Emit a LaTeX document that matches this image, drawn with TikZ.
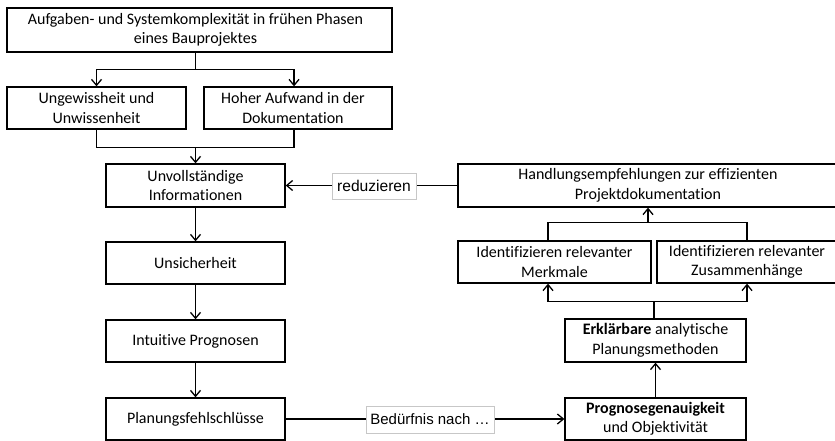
\documentclass[tikz,border=0pt]{standalone}
\usepackage{fontspec}
\setmainfont{Carlito}[Ligatures=NoCommon]
\newfontfamily\tagfont{Liberation Sans}
\usetikzlibrary{arrows.meta,calc}
\begin{document}
\begin{tikzpicture}[x=1pt,y=-1pt,
  box/.style={draw=black, line width=1.3pt, rectangle, inner sep=0pt,
    align=center, font=\fontsize{16}{19.5}\selectfont},
  boxtext/.style={inner sep=0pt, align=center, font=\fontsize{16}{19.5}\selectfont},
  tag/.style={draw=black!22, fill=white, line width=0.8pt, inner sep=0pt,
    font=\tagfont\fontsize{15.6}{19}\selectfont},
  plain/.style={line width=1.3pt},
  link/.style={line width=1.3pt, -{Straight Barb[length=6pt,width=10pt,line width=1.3pt]}}]
\useasboundingbox (0,0) rectangle (835,441);

% left column
\node[box, minimum width=385pt, minimum height=44pt,
  label={[boxtext, xshift=-4pt]center:{Aufgaben- und Systemkomplexität in frühen Phasen\\eines Bauprojektes}}]
  (top) at (199.5,30) {};
\node[box, minimum width=179pt, minimum height=42pt] (ung) at (96.5,108) {Ungewissheit und\\Unwissenheit};
\node[box, minimum width=188pt, minimum height=42pt,
  label={[boxtext, xshift=-5pt]center:{Hoher Aufwand in der\\Dokumentation}}]
  (hoh) at (298,108) {};
\node[box, minimum width=179pt, minimum height=43pt] (unv) at (195.5,185.5) {Unvollständige\\Informationen};
\node[box, minimum width=179pt, minimum height=42pt] (uns) at (195.5,263) {Unsicherheit};
\node[box, minimum width=179pt, minimum height=42pt] (int) at (195.5,341) {Intuitive Prognosen};
\node[box, minimum width=179pt, minimum height=42pt] (plan) at (195.5,419) {Planungsfehlschlüsse};

% right column
\node[box, minimum width=380pt, minimum height=43pt] (hand) at (648,185.5) {Handlungsempfehlungen zur effizienten\\Projektdokumentation};
\node[box, minimum width=193pt, minimum height=42pt] (merk) at (554.5,262) {Identifizieren relevanter\\Merkmale};
\node[box, minimum width=180pt, minimum height=42pt] (zus) at (747,262) {Identifizieren relevanter\\Zusammenhänge};
\node[box, minimum width=181pt, minimum height=43pt] (erk) at (655.5,340.5) {\textbf{Erklärbare} analytische\\Planungsmethoden};
\node[box, minimum width=181pt, minimum height=42pt] (prog) at (655.5,419) {\textbf{Prognosegenauigkeit}\\und Objektivität};

% top split
\draw[plain] (unv.north |- top.south) -- ++(0,17) coordinate (ja);
\draw[link] (ja) -| (ung.north);
\draw[link] (ja) -| ([xshift=-4pt]hoh.north);

% merge into the left column
\draw[plain] (ung.south) -- ++(0,18) coordinate (jb) -| ([xshift=-4pt]hoh.south);
\draw[link] (jb -| unv.north) -- (unv.north);

% left column chain
\draw[link] (unv.south) -- (uns.north);
\draw[link] (uns.south) -- (int.north);
\draw[link] (int.south) -- (plan.north);

% right column
\draw[link] (prog.north) -- (erk.south);
\draw[plain] ([xshift=-1.5pt]erk.north) -- ++(0,-17) coordinate (jc);
\draw[link] (jc) -| ([xshift=-6.5pt]merk.south);
\draw[link] (jc) -| (zus.south);
\draw[plain] ([xshift=-6.5pt]merk.north) -- ++(0,-18) coordinate (jd) -| (zus.north);
\draw[link] (jd -| hand.south) -- (hand.south);

% cross links with labels
\draw[link] (hand.west) -- (unv.east);
\node[tag, minimum width=84pt, minimum height=26pt] (rlab) at (374,186) {reduzieren};
\draw[link] (plan.east) -- (prog.west);
\node[tag, minimum width=128pt, minimum height=27pt, font=\tagfont\fontsize{15}{19}\selectfont] (blab) at (430,419.5) {Bedürfnis nach …};
\end{tikzpicture}
\end{document}
